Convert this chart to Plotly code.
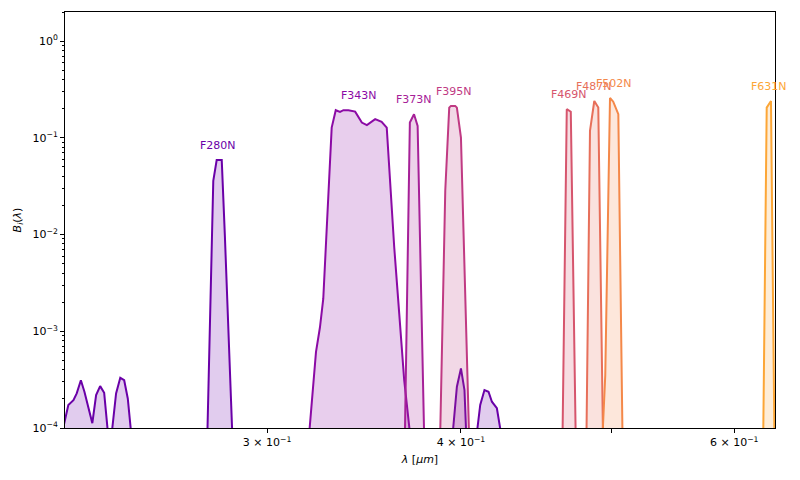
import numpy as np
import plotly.graph_objects as go

# ---- data (wavelength in micron, filter throughput B_i) ----
filters = ["F280N", "F343N", "F373N", "F395N", "F469N", "F487N", "F502N", "F631N"]

f280n_wl = [0.2217, 0.2227, 0.2234, 0.2251, 0.2262, 0.2276, 0.2288, 0.2315, 0.2328, 0.2342,
            0.2356, 0.2369, 0.2383, 0.2398, 0.2413, 0.2427, 0.2440, 0.2452,
            0.2746, 0.2770, 0.2784, 0.2805, 0.2818, 0.2849,
            0.3952, 0.3976, 0.4000, 0.4021, 0.4031,
            0.4096, 0.4116, 0.4142, 0.4167, 0.4188, 0.4219, 0.4244]
f280n_b = [1.0e-4, 1.36e-4, 1.73e-4, 1.94e-4, 2.28e-4, 3.12e-4, 2.37e-4, 1.12e-4, 2.19e-4, 2.71e-4,
           2.31e-4, 9e-5, 9e-5, 2.28e-4, 3.30e-4, 3.12e-4, 2.02e-4, 9e-5,
           9e-5, 0.036, 0.059, 0.059, 0.0098, 9e-5,
           9e-5, 2.67e-4, 4.13e-4, 2.47e-4, 9e-5,
           9e-5, 1.73e-4, 2.47e-4, 2.37e-4, 1.87e-4, 1.6e-4, 9e-5]

f343n_wl = [0.3194, 0.3226, 0.3245, 0.3261, 0.3302, 0.3322, 0.3343, 0.3360, 0.3385, 0.3419,
            0.3453, 0.3479, 0.3522, 0.3556, 0.3583, 0.3600, 0.3623, 0.3650, 0.3677, 0.3708]
f343n_b = [9e-5, 6.12e-4, 1.1e-3, 2.17e-3, 0.1276, 0.193, 0.1854, 0.193, 0.193, 0.1866,
           0.1439, 0.1352, 0.156, 0.1462, 0.1276, 0.036, 0.0074, 0.00152, 3.12e-4, 9e-5]

f373n_wl = [0.3681, 0.3708, 0.3731, 0.3751, 0.3787]
f373n_b = [9e-5, 0.1439, 0.1754, 0.133, 9e-5]

f395n_wl = [0.3879, 0.3908, 0.3931, 0.3941, 0.3966, 0.3976, 0.4000, 0.4048]
f395n_b = [9e-5, 0.0284, 0.205, 0.214, 0.214, 0.205, 0.1007, 9e-5]

f469n_wl = [0.4651, 0.4680, 0.4708, 0.4742]
f469n_b = [9e-5, 0.1977, 0.186, 9e-5]

f487n_wl = [0.4819, 0.4844, 0.4875, 0.4904, 0.4938]
f487n_b = [9e-5, 0.118, 0.2404, 0.2054, 9e-5]

f502n_wl = [0.4936, 0.4955, 0.4990, 0.5014, 0.5052, 0.5083]
f502n_b = [9e-5, 3.52e-4, 0.2585, 0.2366, 0.1754, 9e-5]

f631n_wl = [0.6264, 0.6296, 0.6336, 0.6368]
f631n_b = [9e-5, 0.2054, 0.2404, 9e-5]

x_tickvals = [0.3, 0.4, 0.5, 0.6]
x_ticktext = ["3 × 10<sup>−1</sup>", "4 × 10<sup>−1</sup>", "", "6 × 10<sup>−1</sup>"]
y_tickvals = [1e-4, 1e-3, 1e-2, 1e-1, 1e0]
y_ticktext = ["10<sup>−4</sup>", "10<sup>−3</sup>", "10<sup>−2</sup>", "10<sup>−1</sup>", "10<sup>0</sup>"]

# ---- style ----
colors = ["#6a00a8", "#8b0aa5", "#a62098", "#c03a83", "#d6556d", "#e76f5a", "#f48849", "#fca636"]
FONT = "DejaVu Sans"

curves = [(f280n_wl, f280n_b), (f343n_wl, f343n_b), (f373n_wl, f373n_b), (f395n_wl, f395n_b),
          (f469n_wl, f469n_b), (f487n_wl, f487n_b), (f502n_wl, f502n_b), (f631n_wl, f631n_b)]


def rgba(h, a):
    h = h.lstrip("#")
    return "rgba(%d,%d,%d,%.2f)" % (int(h[0:2], 16), int(h[2:4], 16), int(h[4:6], 16), a)


def half_max_center(wl, b):
    """Geometric centre of the band between the half-maximum crossings (log-interpolated)."""
    lw, lb = np.log10(wl), np.log10(b)
    i = int(np.argmax(b))
    h = lb[i] + np.log10(0.5)
    j = i
    while j > 0 and lb[j - 1] >= h:
        j -= 1
    left = lw[j] if j == 0 else lw[j - 1] + (h - lb[j - 1]) / (lb[j] - lb[j - 1]) * (lw[j] - lw[j - 1])
    k = i
    while k < len(b) - 1 and lb[k + 1] >= h:
        k += 1
    right = lw[k] if k == len(b) - 1 else lw[k] + (h - lb[k]) / (lb[k + 1] - lb[k]) * (lw[k + 1] - lw[k])
    return 0.5 * (left + right)


fig = go.Figure()
FLOOR = 1e-7
annotations = []
for name, (wl, b), col in zip(filters, curves, colors):
    wl = np.asarray(wl)
    b = np.asarray(b)
    px = np.concatenate([[wl[0]], wl, [wl[-1]]])
    py = np.concatenate([[FLOOR], b, [FLOOR]])
    fig.add_trace(go.Scatter(x=px, y=py, mode="lines", fill="toself",
                             fillcolor=rgba(col, 0.2), line=dict(width=0),
                             hoverinfo="skip", showlegend=False))
    fig.add_trace(go.Scatter(x=wl, y=b, mode="lines", line=dict(color=col, width=2),
                             name=name, showlegend=False))
    xm = half_max_center(wl, b)
    ym = float(b.max()) * 1.42
    annotations.append(dict(x=xm, y=np.log10(ym), xref="x", yref="y",
                            text=name, showarrow=False, xanchor="center", yanchor="middle",
                            font=dict(family=FONT, size=11, color=col)))

y_minor = [m * 10.0 ** e for e in range(-4, 1) for m in range(2, 10)]

fig.update_layout(
    width=800, height=480,
    margin=dict(l=65, r=25, t=12, b=52),
    paper_bgcolor="white", plot_bgcolor="white",
    font=dict(family=FONT, size=11, color="black"),
    annotations=annotations,
    xaxis=dict(type="log", range=[np.log10(0.2223), np.log10(0.6374)],
               tickvals=x_tickvals, ticktext=x_ticktext,
               ticks="outside", ticklen=4, tickwidth=1, tickcolor="black",
               showline=True, linecolor="black", linewidth=1, mirror=True,
               showgrid=False, zeroline=False,
               title=dict(text="<i>λ</i> [<i>μm</i>]", standoff=7,
                          font=dict(family=FONT, size=11))),
    yaxis=dict(type="log", range=[-4, np.log10(2.0)],
               tickvals=y_tickvals, ticktext=y_ticktext,
               ticks="outside", ticklen=4, tickwidth=1, tickcolor="black",
               minor=dict(tickvals=y_minor, ticks="outside", ticklen=2, tickcolor="black"),
               showline=True, linecolor="black", linewidth=1, mirror=True,
               showgrid=False, zeroline=False,
               title=dict(text="<i>B<sub>i</sub></i>(<i>λ</i>)", standoff=8,
                          font=dict(family=FONT, size=11))),
)

fig.write_html("out.html")
